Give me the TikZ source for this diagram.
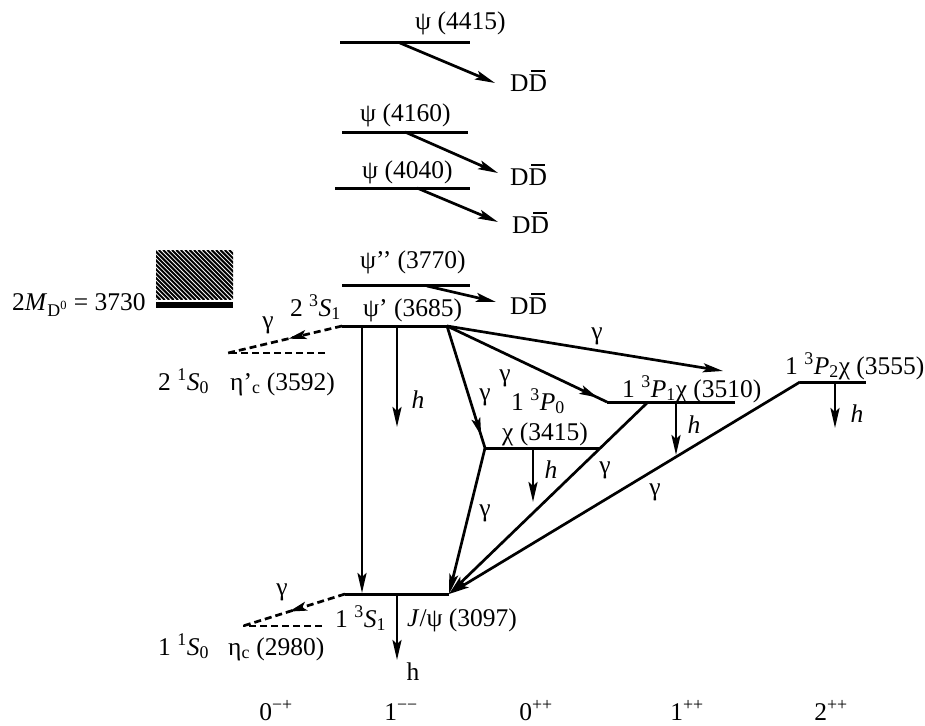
\documentclass[tikz,border=0pt]{standalone}
\usepackage{fontspec}
\setmainfont{Liberation Serif}
\usetikzlibrary{arrows.meta,decorations.markings}
\newcommand{\DDbar}{D\rlap{\hspace{0.1em}\rule[0.76em]{0.55em}{0.07em}}D}
\newcommand{\lsup}[1]{\textsuperscript{#1}}
\newcommand{\lsub}[1]{\textsubscript{#1}}
\tikzset{
  lvl/.style={line width=3pt},
  trans/.style={line width=2.7pt},
  tip/.style={-{Stealth[length=20pt,width=9pt,inset=4pt]}},
  arr/.style={trans,tip},
  dtrans/.style={line width=2.7pt,dash pattern=on 7pt off 4pt},
  dlvl/.style={line width=2.7pt,dash pattern=on 7pt off 4pt},
  midarrow/.style={postaction={decorate},decoration={markings,mark=at position #1 with {\arrow{Stealth[length=18pt,width=9pt,inset=4pt]}}}},
  lbl/.style={font=\fontsize{25.5}{30}\selectfont,inner sep=0pt},
}
\begin{document}
\begin{tikzpicture}[x=1pt,y=-1pt]
\useasboundingbox (0,0) rectangle (925,725);

% ---- threshold box
\begin{scope}
  \clip (156,250) rectangle (233,299);
  \foreach \i in {0,...,30} { \draw[line width=2pt] (106+\i*4.4,250) -- ++(50,50); }
\end{scope}
\fill (156,302) rectangle (233,308);
\node[lbl,anchor=base west] (thr) at (12,310) {2\textit{M}\lsub{D\lsup{0}} = 3730};

% ---- level coordinates
\coordinate (a1) at (340,43);  \coordinate (a2) at (470,43);
\coordinate (b1) at (342,132); \coordinate (b2) at (468,132);
\coordinate (c1) at (335,188); \coordinate (c2) at (470,188);
\coordinate (d1) at (342,285); \coordinate (d2) at (470,285);
\coordinate (e1) at (342,326); \coordinate (e2) at (447,326);
\coordinate (f1) at (228,353); \coordinate (f2) at (325,353);
\coordinate (p21) at (800,382); \coordinate (p22) at (866,382);
\coordinate (p11) at (607,402); \coordinate (p12) at (735,402);
\coordinate (p01) at (485,448); \coordinate (p02) at (600,448);
\coordinate (j1) at (345,594);  \coordinate (j2) at (449,594);
\coordinate (g1) at (243,626);  \coordinate (g2) at (322,626);

\draw[lvl] (a1) -- (a2);
\draw[lvl] (b1) -- (b2);
\draw[lvl] (c1) -- (c2);
\draw[lvl] (d1) -- (d2);
\draw[lvl] (e1) -- (e2);
\draw[dlvl] (f2) -- (f1);
\draw[lvl] (p21) -- (p22);
\draw[lvl] (p11) -- (p12);
\draw[lvl] (p01) -- (p02);
\draw[lvl] (j1) -- (j2);
\draw[dlvl] (g2) -- (g1);

% ---- labels
\node[lbl,anchor=base west] (la) at (415,30) {ψ (4415)};
\node[lbl,anchor=base west] (lb) at (360,121) {ψ (4160)};
\node[lbl,anchor=base west] (lc) at (362,178) {ψ (4040)};
\node[lbl,anchor=base west] (ld) at (360,268) {ψ’’ (3770)};
\node[lbl,anchor=base west] (le) at (363,316) {ψ’ (3685)};
\node[lbl,anchor=base east] (les) at (341,316) {2 \lsup{3}\textit{S}\lsub{1}};
\node[lbl,anchor=base west] (lfs) at (158,390) {2 \lsup{1}\textit{S}\lsub{0}};
\node[lbl,anchor=base west] (lf) at (230,390) {η’\lsub{c} (3592)};
\node[lbl,anchor=base west] (lp0s) at (511,410) {1 \lsup{3}\textit{P}\lsub{0}};
\node[lbl,anchor=base west] (lp0) at (502,440) {χ (3415)};
\node[lbl,anchor=base west] (lp1) at (622,397) {1 \lsup{3}\textit{P}\lsub{1}χ (3510)};
\node[lbl,anchor=base west] (lp2) at (785,374) {1 \lsup{3}\textit{P}\lsub{2}χ (3555)};
\node[lbl,anchor=base west] (ljs) at (335,627) {1 \lsup{3}\textit{S}\lsub{1}};
\node[lbl,anchor=base west] (lj) at (407,626) {\textit{J}/ψ (3097)};
\node[lbl,anchor=base west] (lgs) at (158,655) {1 \lsup{1}\textit{S}\lsub{0}};
\node[lbl,anchor=base west] (lg) at (228,655) {η\lsub{c} (2980)};

% ---- DD-bar decays
\node[lbl,anchor=base west] (dda) at (510,91) {\DDbar};
\node[lbl,anchor=base west] (ddb) at (510,185) {\DDbar};
\node[lbl,anchor=base west] (ddc) at (512,233) {\DDbar};
\node[lbl,anchor=base west] (ddd) at (510,314) {\DDbar};
\coordinate (sa) at (400,43);  \coordinate (ta) at (495,83);
\coordinate (sb) at (405,132); \coordinate (tb) at (498,173);
\coordinate (sc) at (417,188); \coordinate (tc) at (498,222);
\coordinate (sd) at (427,286); \coordinate (td) at (496,302);
\draw[arr] (sa) -- (ta);
\draw[arr] (sb) -- (tb);
\draw[arr] (sc) -- (tc);
\draw[arr] (sd) -- (td);

% ---- transitions from psi'
\draw[dtrans,midarrow=0.47] (e1) -- (f1);
\node[lbl] (gf) at (268,325) {γ};
\coordinate (ev) at (362,326); \coordinate (jv) at (362,593);
\draw[arr] (ev) -- (jv);
\coordinate (eh) at (397,326); \coordinate (ehe) at (397,427);
\draw[arr] (eh) -- (ehe);
\node[lbl] (heh) at (418,400) {\textit{h}};
\coordinate (p2t) at (723,371);
\draw[arr] (e2) -- (p2t);
\node[lbl] (gp2) at (597,336) {γ};
\draw[trans,midarrow=0.94] (e2) -- (p11);
\node[lbl] (gp1) at (505,378) {γ};
\draw[trans,midarrow=0.9] (e2) -- (p01);
\node[lbl] (gp0) at (485,397) {γ};

% ---- chi decays
\coordinate (p0h) at (533,448); \coordinate (p0he) at (533,502);
\draw[arr] (p0h) -- (p0he);
\node[lbl] (hp0) at (551,470) {\textit{h}};
\coordinate (p1h) at (676,402); \coordinate (p1he) at (676,455);
\draw[arr] (p1h) -- (p1he);
\node[lbl] (hp1) at (694,425) {\textit{h}};
\coordinate (p2h) at (835,382); \coordinate (p2he) at (835,428);
\draw[arr] (p2h) -- (p2he);
\node[lbl] (hp2) at (857,414) {\textit{h}};

\coordinate (p1s) at (648,402);
\draw[arr] (p01) -- (j2);
\draw[arr] (p1s) -- (j2);
\draw[arr] (p21) -- (j2);
\node[lbl] (gj0) at (485,513) {γ};
\node[lbl] (gj1) at (605,470) {γ};
\node[lbl] (gj2) at (655,492) {γ};

% ---- J/psi decays
\draw[dtrans,midarrow=0.55] (j1) -- (g1);
\node[lbl] (gg) at (282,592) {γ};
\coordinate (jh) at (397,594); \coordinate (jhe) at (397,660);
\draw[arr] (jh) -- (jhe);
\node[lbl] (hj) at (413,672) {h};

% ---- J^PC row
\node[lbl,anchor=base] (q1) at (276,720) {0\lsup{−+}};
\node[lbl,anchor=base] (q2) at (401,720) {1\lsup{−−}};
\node[lbl,anchor=base] (q3) at (536,720) {0\lsup{++}};
\node[lbl,anchor=base] (q4) at (687,720) {1\lsup{++}};
\node[lbl,anchor=base] (q5) at (831,720) {2\lsup{++}};
\end{tikzpicture}
\end{document}
